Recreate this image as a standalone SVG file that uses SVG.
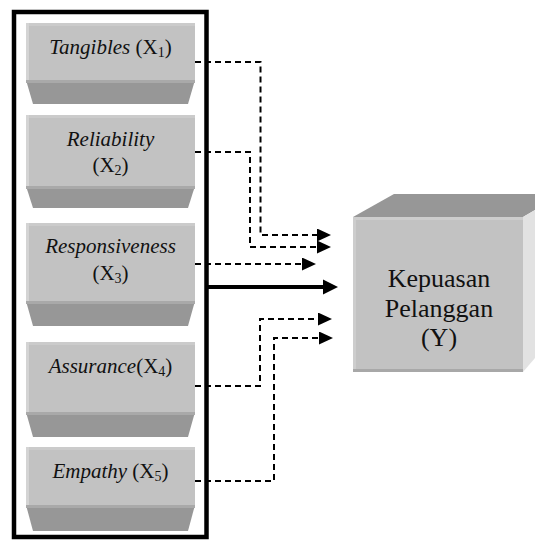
<svg xmlns="http://www.w3.org/2000/svg" width="535" height="545" viewBox="0 0 535 545">
<style>
.front{fill:#c2c2c2}
.hl{fill:#d4d4d4}
.edge{fill:#cbcbcb}
.base{fill:#979797}
.baseHl{fill:#a9a9a9}
.lbl{font-family:"Liberation Serif","Times New Roman",serif;font-size:21px;fill:#111;text-anchor:middle}
.it{font-style:italic}
.sub{font-size:14px}
.big{font-family:"Liberation Serif","Times New Roman",serif;font-size:26px;fill:#111;text-anchor:middle}
.dash{fill:none;stroke:#000;stroke-width:2;stroke-dasharray:6 4}
</style>
<defs>
<marker id="ah" markerUnits="userSpaceOnUse" markerWidth="14" markerHeight="13" refX="0" refY="6.5" orient="auto">
<path d="M0,0 L14,6.5 L0,13 z" fill="#000"/>
</marker>
</defs>
<rect width="535" height="545" fill="#fff"/>
<rect id="frame" x="14" y="12" width="192.5" height="525" fill="none" stroke="#000" stroke-width="4.5"/>

<g id="x1">
<rect class="front" x="26" y="23" width="169" height="57"/>
<rect class="edge" x="26" y="23" width="169" height="3"/>
<rect class="hl" x="26" y="23" width="3" height="57"/>
<polygon class="base" points="26,80 195,80 188,104 33,104"/>
<rect class="baseHl" x="26" y="80" width="169" height="3"/>
<text class="lbl" x="110.5" y="54"><tspan class="it">Tangibles</tspan> (X<tspan class="sub" dy="3">1</tspan><tspan dy="-3">)</tspan></text>
</g>

<g id="x2">
<rect class="front" x="26" y="115" width="169" height="71"/>
<rect class="edge" x="26" y="115" width="169" height="3"/>
<rect class="hl" x="26" y="115" width="3" height="71"/>
<polygon class="base" points="26,186 195,186 188,208 33,208"/>
<rect class="baseHl" x="26" y="186" width="169" height="3"/>
<text class="lbl it" x="110.5" y="146">Reliability</text>
<text class="lbl" x="110.5" y="172">(X<tspan class="sub" dy="3">2</tspan><tspan dy="-3">)</tspan></text>
</g>

<g id="x3">
<rect class="front" x="26" y="223" width="169" height="78"/>
<rect class="edge" x="26" y="223" width="169" height="3"/>
<rect class="hl" x="26" y="223" width="3" height="78"/>
<polygon class="base" points="26,301 195,301 188,326 33,326"/>
<rect class="baseHl" x="26" y="301" width="169" height="3"/>
<text class="lbl it" x="110.5" y="253">Responsiveness</text>
<text class="lbl" x="110.5" y="280">(X<tspan class="sub" dy="3">3</tspan><tspan dy="-3">)</tspan></text>
</g>

<g id="x4">
<rect class="front" x="26" y="342" width="169" height="70"/>
<rect class="edge" x="26" y="342" width="169" height="3"/>
<rect class="hl" x="26" y="342" width="3" height="70"/>
<polygon class="base" points="26,412 195,412 188,437 33,437"/>
<rect class="baseHl" x="26" y="412" width="169" height="3"/>
<text class="lbl" x="110.5" y="373"><tspan class="it">Assurance</tspan>(X<tspan class="sub" dy="3">4</tspan><tspan dy="-3">)</tspan></text>
</g>

<g id="x5">
<rect class="front" x="26" y="447" width="169" height="58"/>
<rect class="edge" x="26" y="447" width="169" height="3"/>
<rect class="hl" x="26" y="447" width="3" height="58"/>
<polygon class="base" points="26,505 195,505 188,531 33,531"/>
<rect class="baseHl" x="26" y="505" width="169" height="3"/>
<text class="lbl" x="110.5" y="478"><tspan class="it">Empathy</tspan> (X<tspan class="sub" dy="3">5</tspan><tspan dy="-3">)</tspan></text>
</g>

<g id="y">
<polygon points="353,217 394,194 535,194 535,210 523,217" fill="#979797"/>
<polygon points="523,217 535,210 535,358 523,372" fill="#e2e2e2"/>
<rect class="front" x="353" y="217" width="170" height="155"/>
<rect fill="#cdcdcd" x="353" y="217" width="170" height="3"/>
<rect fill="#cdcdcd" x="353" y="217" width="3" height="155"/>
<rect fill="#a8a8a8" x="353" y="369" width="170" height="3"/>
<text class="big" x="439" y="287">Kepuasan</text>
<text class="big" x="439" y="317">Pelanggan</text>
<text class="big" x="439" y="346">(Y)</text>
</g>

<g id="connectors">
<path class="dash" d="M195,62 H260.5 V235 H317" marker-end="url(#ah)"/>
<path class="dash" d="M195,152 H250 V247 H317" marker-end="url(#ah)"/>
<path class="dash" d="M195,264 H302" marker-end="url(#ah)"/>
<path class="dash" d="M195,386 H260 V319 H318" marker-end="url(#ah)"/>
<path class="dash" d="M195,481 H274 V338 H319" marker-end="url(#ah)"/>
<line x1="206" y1="287" x2="324" y2="287" stroke="#000" stroke-width="4"/>
<polygon points="323,279.5 338,287 323,294.5" fill="#000"/>
</g>
</svg>
